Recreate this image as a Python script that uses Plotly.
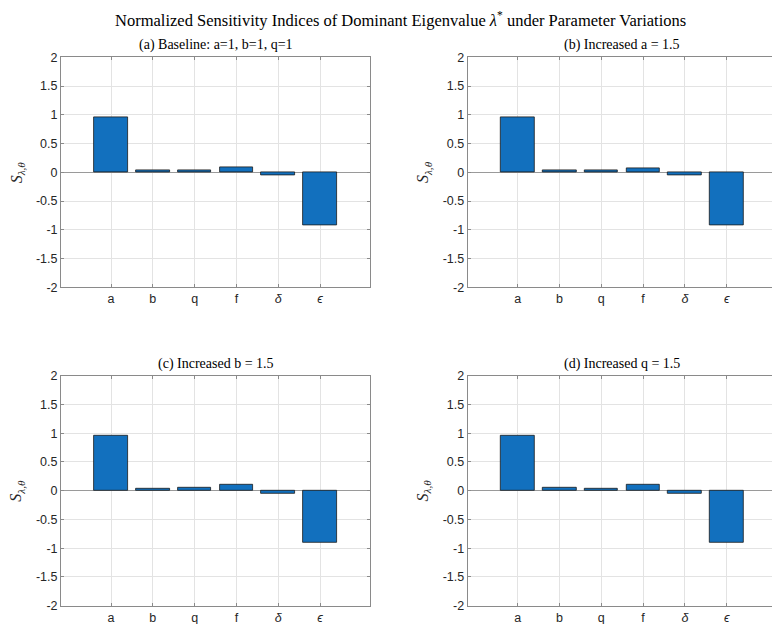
import plotly.graph_objects as go

# Parameters whose normalized sensitivity indices are shown
params = ["a", "b", "q", "f", "δ", "ϵ"]
param_labels = ["a", "b", "q", "f", "<i>δ</i>", "<i>ϵ</i>"]

# Sensitivity indices S_{λ,θ} for each scenario
s_baseline = [0.96, 0.04, 0.04, 0.09, -0.05, -0.92]
s_a_up = [0.96, 0.04, 0.035, 0.07, -0.05, -0.93]
s_b_up = [0.96, 0.04, 0.06, 0.11, -0.06, -0.91]
s_q_up = [0.95, 0.06, 0.04, 0.11, -0.05, -0.91]

panel_titles = [
    "(a) Baseline: a=1, b=1, q=1",
    "(b) Increased a = 1.5",
    "(c) Increased b = 1.5",
    "(d) Increased q = 1.5",
]
y_ticks = [-2, -1.5, -1, -0.5, 0, 0.5, 1, 1.5, 2]
y_tick_text = ["-2", "-1.5", "-1", "-0.5", "0", "0.5", "1", "1.5", "2"]

W, H = 772, 624
BAR_COLOR = "#1270BE"
AXIS_COLOR = "#8a8a8a"
GRID_COLOR = "#e3e3e3"
TICK_FONT = dict(family="Liberation Sans, Arial, sans-serif", size=12.5, color="#262626")
SERIF = "Liberation Serif, Times New Roman, serif"

# Plot boxes in pixels: (left, right, top, bottom); right-hand panels run off the page edge
px_left = [(61, 370), (467.7, 772)]
px_full_right = [370, 776.7]
px_rows = [(57.3, 287.3), (375.7, 605.7)]
cat_x0 = [111, 517.7]
cat_step = 41.8

series = [s_baseline, s_a_up, s_b_up, s_q_up]
x_pos = list(range(1, len(params) + 1))

fig = go.Figure()
annotations = []

for i, vals in enumerate(series):
    row, col = divmod(i, 2)
    xl, xr = px_left[col]
    yt, yb = px_rows[row]
    suffix = "" if i == 0 else str(i + 1)
    xa, ya = "x" + suffix, "y" + suffix

    fig.add_trace(go.Bar(
        x=x_pos, y=vals, width=0.8,
        marker=dict(color=BAR_COLOR, line=dict(color="#1a1a1a", width=0.8)),
        xaxis=xa, yaxis=ya, showlegend=False, hoverinfo="skip",
    ))

    r0 = 1 - (cat_x0[col] - xl) / cat_step
    r1 = 1 + (xr - cat_x0[col]) / cat_step
    axis_common = dict(
        showline=True, linecolor=AXIS_COLOR, linewidth=1,
        ticks="inside", ticklen=3, tickcolor=AXIS_COLOR,
        showgrid=True, gridcolor=GRID_COLOR, gridwidth=1,
        tickfont=TICK_FONT, fixedrange=True, automargin=False,
    )
    fig.layout["xaxis" + suffix] = dict(
        axis_common,
        domain=[xl / W, xr / W], range=[r0, r1], anchor=ya,
        tickvals=x_pos, ticktext=param_labels, mirror="ticks",
        zeroline=False,
    )
    fig.layout["yaxis" + suffix] = dict(
        axis_common,
        domain=[1 - yb / H, 1 - yt / H], range=[-2, 2], anchor=xa,
        tickvals=y_ticks, ticktext=y_tick_text,
        mirror="ticks" if col == 0 else False,
        zeroline=True, zerolinecolor="#9a9a9a", zerolinewidth=1,
    )

    cx = (xl + px_full_right[col]) / 2
    annotations.append(dict(
        text=panel_titles[i], x=cx / W, y=1 - (yt - 2) / H,
        xref="paper", yref="paper", xanchor="center", yanchor="bottom",
        showarrow=False, font=dict(family=SERIF, size=14, color="#000000"),
    ))
    annotations.append(dict(
        text="<i>S</i><sub><i>λ,θ</i></sub>", x=(xl - 44) / W,
        y=1 - ((yt + yb) / 2) / H, xref="paper", yref="paper",
        xanchor="center", yanchor="middle", textangle=-90, showarrow=False,
        font=dict(family=SERIF, size=16, color="#262626"),
    ))

annotations.append(dict(
    text="Normalized Sensitivity Indices of Dominant Eigenvalue <i>λ</i><sup>*</sup> under Parameter Variations",
    x=401 / W, y=1 - 19 / H, xref="paper", yref="paper",
    xanchor="center", yanchor="middle", showarrow=False,
    font=dict(family=SERIF, size=16.5, color="#000000"),
))

fig.update_layout(
    width=W, height=H,
    margin=dict(l=0, r=0, t=0, b=0, pad=0),
    paper_bgcolor="white", plot_bgcolor="white",
    annotations=annotations, bargap=0,
)

fig.write_html("out.html", config={"displayModeBar": False})
